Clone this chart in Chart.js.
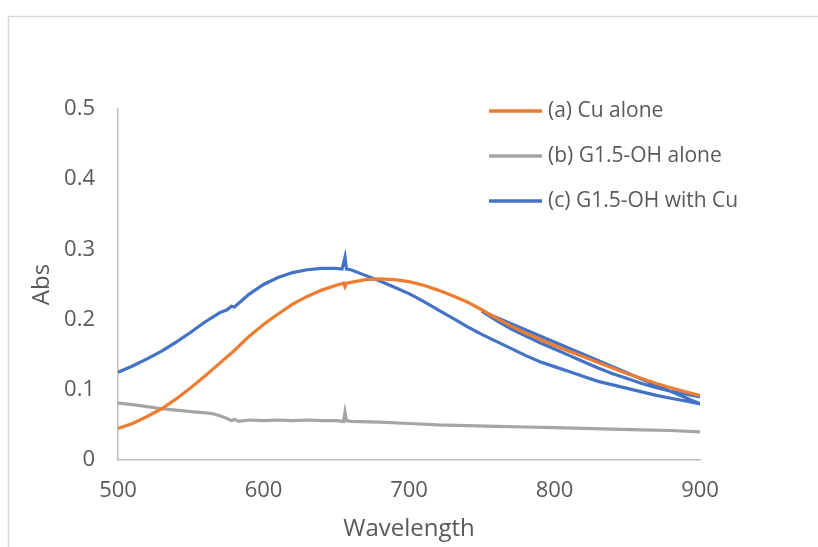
<!DOCTYPE html>
<html lang="en">
<head>
  <meta charset="UTF-8">
  <title>Abs vs Wavelength</title>
  <script src="https://cdn.jsdelivr.net/npm/chart.js"></script>
  <style>
    body {
      margin: 0;
      background: white;
    }
    #wrap {
      position: relative;
      width: 818px;
      height: 547px;
    }
  </style>
</head>
<body>

<div id="wrap">
  <canvas id="absChart" width="818" height="547"></canvas>
</div>

<script>
  // series labels
  const seriesNames = ["(a) Cu alone", "(b) G1.5-OH alone", "(c) G1.5-OH with Cu"];
  const seriesColors = ["#ED7D31", "#A5A5A5", "#4472C4"];

  // (a) Cu alone
  const wlA = [500, 510, 520, 530, 540, 550, 560, 570, 580, 590, 600, 610, 620, 630, 640, 650, 655, 656, 657,
    660, 670, 680, 690, 700, 710, 720, 730, 740, 750, 760, 770, 780, 790, 800, 810, 820, 830, 840, 850,
    860, 870, 880, 890, 900];
  const absA = [0.045, 0.052, 0.062, 0.073, 0.087, 0.103, 0.120, 0.138, 0.156, 0.176, 0.193, 0.208, 0.222, 0.233, 0.242, 0.249, 0.252, 0.247, 0.252,
    0.253, 0.257, 0.258, 0.257, 0.254, 0.249, 0.242, 0.234, 0.225, 0.214, 0.202, 0.191, 0.181, 0.172, 0.163, 0.155, 0.147, 0.139, 0.131, 0.123,
    0.116, 0.109, 0.103, 0.097, 0.092];

  // (b) G1.5-OH alone
  const wlB = [500, 510, 520, 530, 540, 550, 560, 565, 570, 575, 578, 580, 583, 590, 600, 610, 620, 630, 640, 650, 655, 656, 657,
    660, 680, 700, 720, 740, 760, 780, 800, 820, 840, 860, 880, 900];
  const absB = [0.081, 0.079, 0.076, 0.073, 0.071, 0.069, 0.067, 0.066, 0.063, 0.059, 0.056, 0.058, 0.055, 0.057, 0.056, 0.057, 0.056, 0.057, 0.056, 0.056, 0.055, 0.068, 0.056,
    0.055, 0.054, 0.052, 0.050, 0.049, 0.048, 0.047, 0.046, 0.045, 0.044, 0.043, 0.042, 0.040];

  // (c) G1.5-OH with Cu : full scan 500-900, then a second pass 750-900
  const wlC = [500, 510, 520, 530, 540, 550, 560, 570, 575, 578, 580, 590, 600, 610, 620, 630, 640, 650, 654, 656, 657,
    660, 670, 680, 690, 700, 710, 720, 730, 740, 750, 760, 770, 780, 790, 800, 810, 820, 830, 840, 850,
    860, 870, 880, 890, 900,
    750, 760, 770, 780, 790, 800, 810, 820, 830, 840, 850, 860, 870, 880, 890, 900];
  const absC = [0.125, 0.134, 0.144, 0.155, 0.168, 0.182, 0.197, 0.210, 0.214, 0.219, 0.218, 0.236, 0.250, 0.260, 0.267, 0.271, 0.273, 0.273, 0.272, 0.289, 0.272,
    0.271, 0.263, 0.255, 0.246, 0.237, 0.226, 0.214, 0.202, 0.190, 0.179, 0.169, 0.159, 0.149, 0.140, 0.133, 0.126, 0.119, 0.112, 0.107, 0.102,
    0.097, 0.092, 0.088, 0.084, 0.080,
    0.212, 0.199, 0.187, 0.177, 0.167, 0.158, 0.149, 0.140, 0.131, 0.123, 0.116, 0.109, 0.103, 0.098, 0.094, 0.090];

  const xTicks = [500, 600, 700, 800, 900];
  const yTicks = [0, 0.1, 0.2, 0.3, 0.4, 0.5];

  const textColor = "#595959";
  const fontFamily = "'Open Sans', sans-serif";

  function toPoints(xs, ys) {
    return xs.map((x, i) => ({ x: x, y: ys[i] }));
  }

  // outer frame of the chart object (only top and left edges are inside the picture)
  const framePlugin = {
    id: "frame",
    beforeDraw(chart) {
      const c = chart.ctx;
      c.save();
      c.fillStyle = "white";
      c.fillRect(0, 0, chart.width, chart.height);
      c.strokeStyle = "#d9d9d9";
      c.lineWidth = 1.5;
      c.strokeRect(8.5, 16.5, 1000, 1000);
      c.restore();
    }
  };

  // legend drawn to the right, like the Excel one
  const legendPlugin = {
    id: "sideLegend",
    afterDraw(chart) {
      const c = chart.ctx;
      c.save();
      c.font = "21px " + fontFamily;
      c.textBaseline = "middle";
      chart.data.datasets.forEach((ds, i) => {
        const y = 111 + i * 45;
        c.strokeStyle = ds.borderColor;
        c.lineWidth = 3.5;
        c.beginPath();
        c.moveTo(489, y);
        c.lineTo(542, y);
        c.stroke();
        c.fillStyle = textColor;
        c.fillText(ds.label, 548, y);
      });
      c.restore();
    }
  };

  const datasets = [
    { label: seriesNames[0], data: toPoints(wlA, absA), borderColor: seriesColors[0] },
    { label: seriesNames[1], data: toPoints(wlB, absB), borderColor: seriesColors[1] },
    { label: seriesNames[2], data: toPoints(wlC, absC), borderColor: seriesColors[2] }
  ].map(d => Object.assign(d, {
    showLine: true,
    pointRadius: 0,
    borderWidth: 3.2,
    fill: false,
    tension: 0
  }));

  const ctx = document.getElementById("absChart").getContext("2d");
  new Chart(ctx, {
    type: "scatter",
    data: { datasets: datasets },
    plugins: [framePlugin, legendPlugin],
    options: {
      responsive: false,
      animation: false,
      layout: { padding: { top: 109, right: 118, bottom: 0, left: 0 } },
      plugins: {
        legend: { display: false },
        tooltip: { enabled: false }
      },
      scales: {
        x: {
          type: "linear",
          min: 500,
          max: 900,
          afterBuildTicks(scale) {
            scale.ticks = xTicks.map(v => ({ value: v }));
          },
          afterFit(scale) { scale.height = 87; },
          grid: { display: false, drawTicks: false },
          border: { display: true, color: "#bfbfbf", width: 1.5 },
          ticks: {
            color: textColor,
            font: { family: fontFamily, size: 22 },
            padding: 18,
            maxRotation: 0
          },
          title: {
            display: true,
            text: "Wavelength",
            color: textColor,
            font: { family: fontFamily, size: 24 },
            padding: { top: 0, bottom: 3 }
          }
        },
        y: {
          min: 0,
          max: 0.5,
          afterBuildTicks(scale) {
            scale.ticks = yTicks.map(v => ({ value: v }));
          },
          afterFit(scale) { scale.width = 118; },
          grid: { display: false, drawTicks: false },
          border: { display: true, color: "#bfbfbf", width: 1.5 },
          ticks: {
            color: textColor,
            font: { family: fontFamily, size: 22 },
            padding: 23,
            callback: v => String(v)
          },
          title: {
            display: true,
            text: "Abs",
            color: textColor,
            font: { family: fontFamily, size: 24 },
            padding: { top: 28, bottom: 0 }
          }
        }
      }
    }
  });
</script>

</body>
</html>
